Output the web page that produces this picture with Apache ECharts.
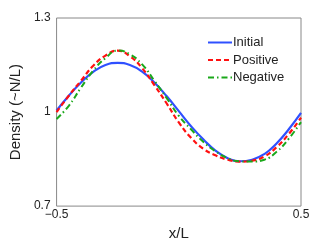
<!DOCTYPE html>
<html><head><meta charset="utf-8">
<script src="https://cdn.jsdelivr.net/npm/echarts@6/dist/echarts.min.js"></script>
<style>html,body{margin:0;padding:0;background:#fff}#c{width:332px;height:246px}</style>
</head><body><div id="c"></div>
<script>
var xs = [-0.5,-0.45,-0.4,-0.35,-0.3,-0.25,-0.2,-0.15,-0.1,-0.05,0,0.05,0.1,0.15,0.2,0.25,0.3,0.35,0.4,0.45,0.5];
var initial = [1.005,1.052,1.094,1.128,1.150,1.157,1.150,1.129,1.094,1.051,1.003,0.955,0.913,0.877,0.853,0.843,0.848,0.866,0.900,0.945,0.997];
var positive = [1.000,1.052,1.100,1.148,1.180,1.196,1.178,1.140,1.086,1.028,0.967,0.918,0.883,0.862,0.848,0.842,0.845,0.858,0.888,0.930,0.982];
var negative = [0.978,1.020,1.078,1.132,1.172,1.196,1.184,1.152,1.100,1.045,0.988,0.945,0.905,0.875,0.853,0.843,0.842,0.848,0.873,0.915,0.968];
var yTicks = [0.7, 1, 1.3];
var xTicks = [-0.5, 0.5];
var names = ['Initial','Positive','Negative'];

function pairs(v){ return xs.map(function(x,i){ return [x, v[i]]; }); }
var font = 'Liberation Sans, Arial, sans-serif';
var chart = echarts.init(document.getElementById('c'));
chart.setOption({
  animation:false,
  grid:{left:43,right:31,top:18,bottom:28,show:true,borderColor:'#888',borderWidth:1,backgroundColor:'transparent'},
  xAxis:{type:'value',min:-0.5,max:0.5,
    name:'x/L',nameLocation:'middle',nameGap:12,nameTextStyle:{fontSize:15,color:'#222',fontFamily:font},
    axisLine:{show:false},axisTick:{show:false},splitLine:{show:false},
    axisLabel:{customValues:xTicks,fontSize:12,color:'#222',fontFamily:font,margin:3,
      formatter:function(v){return v<0?'\u2212'+Math.abs(v):String(v);}}},
  yAxis:{type:'value',min:0.7,max:1.3,
    name:'Density (~N/L)',nameLocation:'middle',nameGap:30,nameRotate:90,nameTextStyle:{fontSize:15,color:'#222',fontFamily:font},
    axisLine:{show:false},axisTick:{show:false},splitLine:{show:false},
    axisLabel:{customValues:yTicks,fontSize:12,color:'#222',fontFamily:font,margin:6,
      formatter:function(v){return String(Math.round(v*10)/10);}}},
  legend:{orient:'vertical',left:202,top:31,itemWidth:24,itemHeight:12,itemGap:4.5,
    itemStyle:{opacity:0},
    textStyle:{fontSize:13,color:'#222',fontFamily:font,padding:[0,0,0,-4]},
    data:names},
  series:[
    {name:names[0],type:'line',data:pairs(initial),smooth:true,symbol:'none',
      lineStyle:{color:'#2f50ff',width:2.2},itemStyle:{color:'#2f50ff'}},
    {name:names[1],type:'line',data:pairs(positive),smooth:true,symbol:'none',
      lineStyle:{color:'#ff1010',width:2.2,type:[5,3]},itemStyle:{color:'#ff1010'}},
    {name:names[2],type:'line',data:pairs(negative),smooth:true,symbol:'none',
      lineStyle:{color:'#1aa81a',width:2,type:[6,3,1.5,3]},itemStyle:{color:'#1aa81a'}}
  ]
});
</script></body></html>
